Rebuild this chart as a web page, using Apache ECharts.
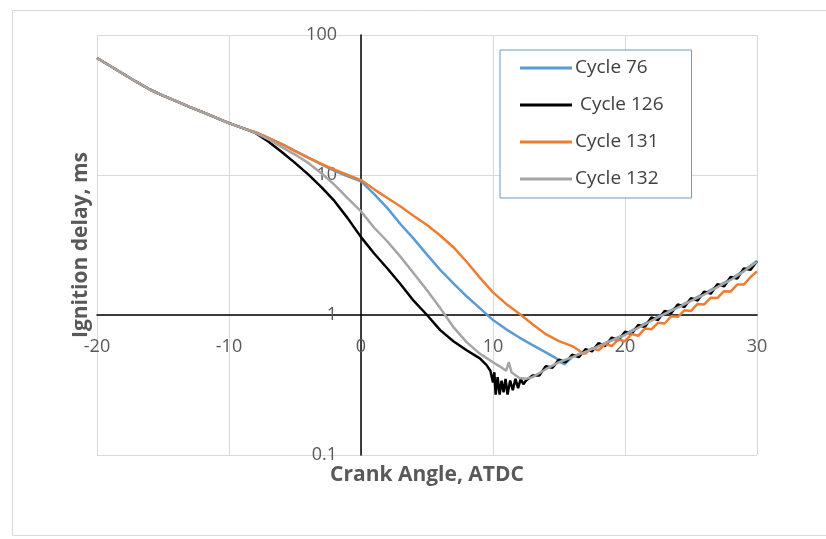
<!DOCTYPE html>
<html>
<head>
<meta charset="utf-8">
<script src="https://cdn.jsdelivr.net/npm/echarts@6/dist/echarts.min.js"></script>
<style>
  html, body { margin: 0; padding: 0; background: #ffffff; }
  #chart { width: 826px; height: 539px; }
</style>
</head>
<body>
<div id="chart"></div>
<script>
// Crank angle axis ticks and ignition delay (log) ticks
const angleTicks = [-20, -10, 0, 10, 20, 30];
const delayTicks = [0.1, 1, 10, 100];

const seriesNames = ['Cycle 76', ' Cycle 126', 'Cycle 131', 'Cycle 132'];
const seriesColors = ['#5b9bd5', '#000000', '#ed7d31', '#a5a5a5'];

// Compression part where all four cycles coincide: [angle, delay ms]
const sharedPart = [
  [-20, 68.5], [-19, 60.1], [-18, 52.7], [-17, 46.2], [-16, 40.8], [-15, 36.9],
  [-14, 33.7], [-13, 30.7], [-12, 28.1], [-11, 25.7], [-10, 23.5], [-9, 21.7]
];

const cycle76 = [
  [-8, 20.2], [-7, 18.3], [-6, 16.6], [-5, 14.9], [-4, 13.3], [-3, 11.9], [-2, 10.7],
  [-1, 9.8], [0, 9.0], [1, 7.3], [2, 5.8], [3, 4.45], [4, 3.5], [5, 2.7], [6, 2.1],
  [7, 1.68], [8, 1.36], [9, 1.12], [10, 0.92], [11, 0.79], [12, 0.69], [13, 0.61],
  [14, 0.54], [14.8, 0.49], [15.1, 0.46], [15.4, 0.445], [15.7, 0.47], [16, 0.50],
  [17, 0.55], [18, 0.60], [19, 0.66], [20, 0.73], [21, 0.82], [22, 0.92], [23, 1.03],
  [24, 1.14], [25, 1.27], [26, 1.42], [27, 1.60], [28, 1.80], [29, 2.08], [30, 2.43]
];

const cycle126 = [
  [-8, 20.0], [-7, 17.3], [-6, 14.6], [-5, 12.2], [-4, 10.1], [-3, 8.2], [-2, 6.5],
  [-1, 4.9], [0, 3.6], [1, 2.75], [2, 2.15], [3, 1.66], [4, 1.26], [5, 1.0], [6, 0.78],
  [7, 0.65], [8, 0.56], [9, 0.49], [9.5, 0.44], [9.8, 0.40], [10, 0.33], [10.1, 0.39],
  [10.2, 0.27], [10.35, 0.36], [10.5, 0.27], [10.65, 0.34], [10.8, 0.28], [10.95, 0.35],
  [11.1, 0.27], [11.3, 0.34], [11.5, 0.29], [11.7, 0.35], [11.9, 0.30], [12.1, 0.35],
  [12.3, 0.32], [12.5, 0.34], [13, 0.37], [13.5, 0.37], [14, 0.43], [14.5, 0.42],
  [15, 0.48], [15.5, 0.46], [16, 0.52], [16.5, 0.50], [17, 0.57], [17.5, 0.55],
  [18, 0.63], [18.5, 0.60], [19, 0.69], [19.5, 0.66], [20, 0.76], [20.5, 0.73],
  [21, 0.85], [21.5, 0.82], [22, 0.96], [22.5, 0.92], [23, 1.07], [23.5, 1.03],
  [24, 1.19], [24.5, 1.14], [25, 1.32], [25.5, 1.27], [26, 1.47], [26.5, 1.42],
  [27, 1.66], [27.5, 1.60], [28, 1.87], [28.5, 1.82], [29, 2.15], [29.5, 2.10], [30, 2.42]
];

const cycle131 = [
  [-8, 20.2], [-7, 18.4], [-6, 16.6], [-5, 14.8], [-4, 13.3], [-3, 12.0], [-2, 10.9],
  [-1, 10.0], [0, 9.2], [1, 7.9], [2, 6.85], [3, 5.95], [4, 5.1], [5, 4.4], [6, 3.7],
  [7, 3.05], [8, 2.4], [9, 1.85], [10, 1.45], [11, 1.2], [12, 1.02], [13, 0.86],
  [14, 0.73], [15, 0.65], [16, 0.60], [16.5, 0.56], [16.8, 0.53], [17, 0.53],
  [17.5, 0.58], [18, 0.56], [18.5, 0.62], [19, 0.60], [19.5, 0.67], [20, 0.65],
  [20.5, 0.73], [21, 0.71], [21.5, 0.80], [22, 0.79], [22.5, 0.88], [23, 0.87],
  [23.5, 0.98], [24, 0.97], [24.5, 1.08], [25, 1.07], [25.5, 1.20], [26, 1.19],
  [26.5, 1.33], [27, 1.32], [27.5, 1.48], [28, 1.47], [28.5, 1.65], [29, 1.65],
  [29.5, 1.86], [30, 2.05]
];

const cycle132 = [
  [-8, 20.0], [-7, 18.0], [-6, 15.8], [-5, 14.0], [-4, 12.2], [-3, 10.3], [-2, 8.5],
  [-1, 6.8], [0, 5.5], [1, 4.2], [2, 3.35], [3, 2.6], [4, 1.98], [5, 1.5], [6, 1.12],
  [7, 0.82], [8, 0.64], [9, 0.53], [10, 0.46], [10.5, 0.43], [11, 0.40], [11.2, 0.46],
  [11.4, 0.39], [12, 0.355], [12.5, 0.35], [13, 0.36], [14, 0.41], [15, 0.46],
  [16, 0.50], [17, 0.545], [18, 0.60], [19, 0.66], [20, 0.72], [21, 0.81], [22, 0.91],
  [23, 1.02], [24, 1.13], [25, 1.26], [26, 1.40], [27, 1.58], [28, 1.78], [29, 2.05],
  [30, 2.40]
];

const cycleData = [cycle76, cycle126, cycle131, cycle132];

const textColor = '#595959';
const fontFamily = "'Open Sans', 'Noto Sans', sans-serif";

const chart = echarts.init(document.getElementById('chart'), null, { renderer: 'canvas' });

// Plot box in pixels; the axes cross at angle 0 and delay 1 ms
const plotLeft = 97, plotRight = 757, plotTop = 35, plotBottom = 455;
const zeroAngleShift = (plotRight - plotLeft) * (0 - angleTicks[0]) / (angleTicks[angleTicks.length - 1] - angleTicks[0]);
const oneMsShift = (plotBottom - plotTop) * (Math.log10(1) - Math.log10(delayTicks[0])) /
  (Math.log10(delayTicks[delayTicks.length - 1]) - Math.log10(delayTicks[0]));

chart.setOption({
  animation: false,
  backgroundColor: '#ffffff',
  textStyle: { fontFamily: fontFamily },
  graphic: [{
    type: 'rect',
    z: -10,
    shape: { x: 12.5, y: 10.5, width: 830, height: 525 },
    style: { fill: 'none', stroke: '#d9d9d9', lineWidth: 1 }
  }],
  grid: {
    left: plotLeft, right: 826 - plotRight, top: plotTop, bottom: 539 - plotBottom,
    containLabel: false,
    outerBoundsMode: 'none'
  },
  legend: {
    orient: 'vertical',
    left: 500,
    top: 50,
    data: seriesNames,
    icon: 'rect',
    backgroundColor: '#ffffff',
    borderColor: '#6d9bc3',
    borderWidth: 1,
    borderRadius: 0,
    padding: [7, 28, 8, 20],
    itemGap: 15,
    itemWidth: 52,
    itemHeight: 3,
    textStyle: { color: '#404040', fontSize: 19, fontFamily: fontFamily, lineHeight: 22, padding: [0, 0, 0, -2] }
  },
  xAxis: {
    type: 'value',
    min: angleTicks[0],
    max: angleTicks[angleTicks.length - 1],
    interval: angleTicks[1] - angleTicks[0],
    position: 'bottom',
    offset: -oneMsShift,
    name: 'Crank Angle, ATDC',
    nameLocation: 'middle',
    nameGap: 150,
    nameTextStyle: { color: textColor, fontSize: 21, fontWeight: 'bold', fontFamily: fontFamily },
    axisLine: { onZero: false, lineStyle: { color: '#000000', width: 1.5 } },
    axisTick: { show: false },
    axisLabel: { color: textColor, fontSize: 18, margin: 23, fontFamily: fontFamily },
    splitLine: { show: true, lineStyle: { color: '#d9d9d9', width: 1 } }
  },
  yAxis: {
    type: 'log',
    logBase: 10,
    min: delayTicks[0],
    max: delayTicks[delayTicks.length - 1],
    position: 'left',
    offset: -zeroAngleShift,
    name: 'Ignition delay, ms',
    nameLocation: 'middle',
    nameGap: 269,
    nameRotate: 90,
    nameTextStyle: { color: textColor, fontSize: 21, fontWeight: 'bold', fontFamily: fontFamily },
    axisLine: { show: true, onZero: false, lineStyle: { color: '#000000', width: 1.5 } },
    axisTick: { show: false },
    axisLabel: {
      color: textColor, fontSize: 18, margin: 24, fontFamily: fontFamily,
      formatter: function (v) { return String(v); }
    },
    splitLine: { show: true, lineStyle: { color: '#d9d9d9', width: 1 } }
  },
  series: seriesNames.map(function (name, i) {
    return {
      name: name,
      type: 'line',
      data: sharedPart.concat(cycleData[i]),
      showSymbol: false,
      symbol: 'none',
      smooth: false,
      z: 2 + i,
      color: seriesColors[i],
      lineStyle: { color: seriesColors[i], width: 2.5 }
    };
  })
});
</script>
</body>
</html>
